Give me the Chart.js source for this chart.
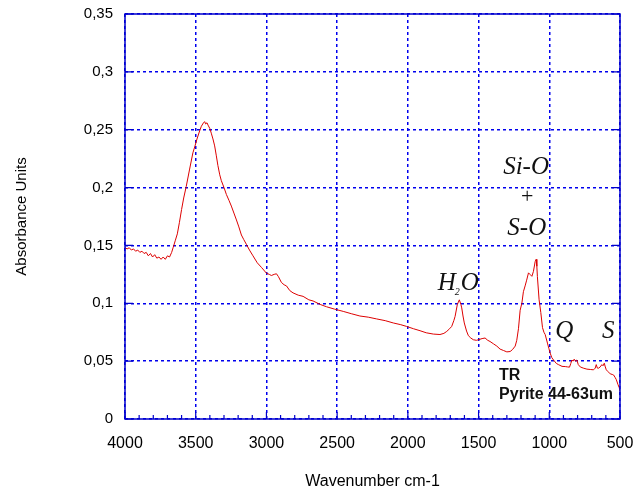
<!DOCTYPE html>
<html>
<head>
<meta charset="utf-8">
<script src="https://cdn.jsdelivr.net/npm/chart.js@4.4.1/dist/chart.umd.min.js"></script>
<style>
  html, body { margin: 0; padding: 0; background: #fff; }
  #wrap { width: 634px; height: 494px; }
</style>
</head>
<body>
<div id="wrap"><canvas id="irChart" width="634" height="494"></canvas></div>
<script>
// spectrum (wavenumber cm-1 / absorbance)
const wavenumbers = [
  4000, 3985, 3970, 3955, 3940, 3925, 3910, 3895, 3880, 3865, 3850, 3835, 3820, 3805, 3790,
  3775, 3760, 3745, 3730, 3715, 3700, 3685, 3670, 3660, 3645, 3630, 3615, 3600, 3585, 3567,
  3543, 3520, 3505, 3491, 3475, 3460, 3445, 3437, 3430, 3420, 3413, 3400, 3390, 3378, 3366,
  3355, 3343, 3330, 3319, 3300, 3283, 3265, 3248, 3230, 3212, 3195, 3177, 3160, 3142, 3120,
  3095, 3065, 3035, 3000, 2980, 2965, 2945, 2929, 2915, 2894, 2875, 2858, 2835, 2812, 2775,
  2741, 2700, 2670, 2620, 2575, 2520, 2457, 2400, 2339, 2280, 2221, 2160, 2103, 2050, 2009,
  1960, 1914, 1870, 1820, 1773, 1745, 1725, 1705, 1690, 1675, 1666, 1650, 1636, 1625, 1619,
  1610, 1601, 1585, 1572, 1555, 1537, 1515, 1501, 1475, 1454, 1435, 1419, 1395, 1371, 1348,
  1324, 1300, 1277, 1260, 1241, 1230, 1218, 1206, 1194, 1183, 1171, 1160, 1147, 1135, 1123,
  1112, 1100, 1093, 1088, 1084, 1072, 1060, 1048, 1038, 1029, 1013, 1003, 994, 982, 970,
  950, 935, 910, 887, 870, 857, 848, 840, 832, 824, 815, 805, 795, 781, 760,
  734, 710, 687, 675, 668, 660, 652, 640, 628, 620, 611, 604, 597, 585, 569,
  555, 545, 535, 526, 515, 505, 500
];
const absorbance = [
  0.148, 0.147, 0.148, 0.146, 0.147, 0.145, 0.146, 0.144, 0.145, 0.143, 0.144, 0.141, 0.143, 0.140, 0.142,
  0.139, 0.140, 0.138, 0.140, 0.138, 0.141, 0.140, 0.144, 0.148, 0.154, 0.160, 0.170, 0.181, 0.191, 0.201,
  0.216, 0.230, 0.236, 0.242, 0.248, 0.253, 0.256, 0.257, 0.255, 0.256, 0.254, 0.251, 0.247, 0.242, 0.236,
  0.228, 0.219, 0.211, 0.206, 0.200, 0.194, 0.189, 0.184, 0.178, 0.172, 0.166, 0.159, 0.155, 0.151, 0.146,
  0.141, 0.135, 0.131, 0.126, 0.125, 0.124, 0.125, 0.1255, 0.123, 0.118, 0.116, 0.115, 0.111, 0.109, 0.107,
  0.106, 0.103, 0.102, 0.099, 0.097, 0.095, 0.093, 0.091, 0.089, 0.088, 0.0865, 0.085, 0.083, 0.0815, 0.080,
  0.078, 0.0763, 0.0745, 0.0734, 0.073, 0.074, 0.0757, 0.078, 0.080, 0.085, 0.0887, 0.099, 0.103, 0.099, 0.096,
  0.089, 0.083, 0.076, 0.072, 0.070, 0.0685, 0.068, 0.0685, 0.0695, 0.070, 0.068, 0.067, 0.065, 0.063, 0.0604,
  0.0592, 0.058, 0.0583, 0.060, 0.063, 0.068, 0.078, 0.094, 0.100, 0.110, 0.115, 0.120, 0.1263, 0.1248, 0.1233,
  0.1276, 0.136, 0.138, 0.132, 0.123, 0.103, 0.092, 0.079, 0.075, 0.073, 0.0656, 0.061, 0.057, 0.053, 0.051,
  0.048, 0.047, 0.0455, 0.0453, 0.045, 0.0448, 0.048, 0.051, 0.050, 0.0517, 0.050, 0.051, 0.047, 0.045, 0.044,
  0.0431, 0.0428, 0.0425, 0.044, 0.047, 0.044, 0.0439, 0.045, 0.047, 0.046, 0.0482, 0.045, 0.0425, 0.041, 0.039,
  0.0385, 0.038, 0.036, 0.034, 0.030, 0.027, 0.024
];

const xTicks = [4000, 3500, 3000, 2500, 2000, 1500, 1000, 500];
const xTickLabels = ["4000", "3500", "3000", "2500", "2000", "1500", "1000", "500"];
const yTicks = [0, 0.05, 0.1, 0.15, 0.2, 0.25, 0.3, 0.35];
const yTickLabels = ["0", "0,05", "0,1", "0,15", "0,2", "0,25", "0,3", "0,35"];

const BLUE = "#0000cc";
const GRID_BLUE = "#0000ee";
const SANS = "'Liberation Sans', Arial, sans-serif";
const SERIF = "'Liberation Serif', 'Times New Roman', serif";

// frame, inner ticks and the peak labels
const framePlugin = {
  id: "frame",
  afterDatasetsDraw(chart) {
    const { ctx, chartArea: a, scales } = chart;
    const xs = scales.x, ys = scales.y;
    ctx.save();
    ctx.setLineDash([]);
    ctx.strokeStyle = BLUE;
    ctx.lineWidth = 1.5;
    ctx.strokeRect(a.left, a.top, a.right - a.left, a.bottom - a.top);

    ctx.lineWidth = 1.2;
    ctx.beginPath();
    // minor x ticks every 100 cm-1
    for (let w = 500; w <= 4000; w += 100) {
      const px = xs.getPixelForValue(w);
      const len = w % 500 === 0 ? 7 : 4;
      ctx.moveTo(px, a.bottom);
      ctx.lineTo(px, a.bottom - len);
    }
    // y ticks on both sides
    yTicks.forEach(v => {
      const py = ys.getPixelForValue(v);
      ctx.moveTo(a.left, py);
      ctx.lineTo(a.left + 8, py);
      ctx.moveTo(a.right, py);
      ctx.lineTo(a.right - 8, py);
    });
    ctx.stroke();

    // italic peak labels
    ctx.fillStyle = "#111";
    ctx.font = "italic 25px " + SERIF;
    ctx.textBaseline = "alphabetic";
    ctx.textAlign = "center";
    ctx.fillText("Si-O", xs.getPixelForValue(1164), ys.getPixelForValue(0.2114));
    ctx.fillText("S-O", xs.getPixelForValue(1159), ys.getPixelForValue(0.1586));
    ctx.font = "22px " + SERIF;
    ctx.textBaseline = "middle";
    ctx.fillText("+", xs.getPixelForValue(1157), ys.getPixelForValue(0.1918));

    ctx.textBaseline = "alphabetic";
    ctx.textAlign = "left";
    ctx.font = "italic 25px " + SERIF;
    let hx = xs.getPixelForValue(1789);
    const hy = ys.getPixelForValue(0.1118);
    ctx.fillText("H", hx, hy);
    hx += ctx.measureText("H").width;
    ctx.font = "italic 10px " + SERIF;
    ctx.fillText("2", hx - 1, hy + 5);
    hx += ctx.measureText("2").width;
    ctx.font = "italic 25px " + SERIF;
    ctx.fillText("O", hx, hy);

    ctx.fillText("Q", xs.getPixelForValue(958), ys.getPixelForValue(0.0702));
    ctx.fillText("S", xs.getPixelForValue(628), ys.getPixelForValue(0.0702));

    // sample name
    ctx.font = "bold 16px " + SANS;
    ctx.fillText("TR", xs.getPixelForValue(1355), ys.getPixelForValue(0.0338));
    ctx.fillText("Pyrite 44-63um", xs.getPixelForValue(1355), ys.getPixelForValue(0.0171));
    ctx.restore();
  }
};

new Chart(document.getElementById("irChart").getContext("2d"), {
  type: "line",
  data: {
    datasets: [{
      data: wavenumbers.map((w, i) => ({ x: w, y: absorbance[i] })),
      borderColor: "#dd0000",
      borderWidth: 1,
      pointRadius: 0,
      tension: 0,
      fill: false
    }]
  },
  options: {
    responsive: false,
    animation: false,
    layout: { padding: { top: 14, right: 14, left: 0, bottom: 0 } },
    plugins: { legend: { display: false }, tooltip: { enabled: false } },
    scales: {
      x: {
        type: "linear",
        reverse: true,
        min: 500,
        max: 4000,
        afterBuildTicks: s => { s.ticks = xTicks.map(v => ({ value: v })); },
        afterFit: s => {
          s.height = 75;
          s.paddingLeft = 0;
          s.paddingRight = 0;
        },
        ticks: {
          callback: v => xTickLabels[xTicks.indexOf(v)],
          color: "#000",
          font: { family: SANS, size: 16 },
          padding: 15,
          maxRotation: 0,
          autoSkip: false
        },
        grid: { color: GRID_BLUE, lineWidth: 1.5, drawTicks: false },
        border: { display: false, dash: [3, 3] },
        title: {
          display: true,
          text: "Wavenumber cm-1",
          color: "#000",
          font: { family: SANS, size: 16 },
          padding: { top: 0, bottom: 3 }
        }
      },
      y: {
        min: 0,
        max: 0.35,
        afterBuildTicks: s => { s.ticks = yTicks.map(v => ({ value: v })); },
        afterFit: s => {
          s.width = 125;
          s.paddingTop = 0;
          s.paddingBottom = 0;
        },
        ticks: {
          callback: (v, i) => yTickLabels[i],
          color: "#000",
          font: { family: SANS, size: 15 },
          padding: 12
        },
        grid: { color: GRID_BLUE, lineWidth: 1.5, drawTicks: false },
        border: { display: false, dash: [3, 3] },
        title: {
          display: true,
          text: "Absorbance Units",
          color: "#000",
          font: { family: SANS, size: 15 },
          padding: { top: 13, bottom: 0 }
        }
      }
    }
  },
  plugins: [framePlugin]
});
</script>
</body>
</html>
